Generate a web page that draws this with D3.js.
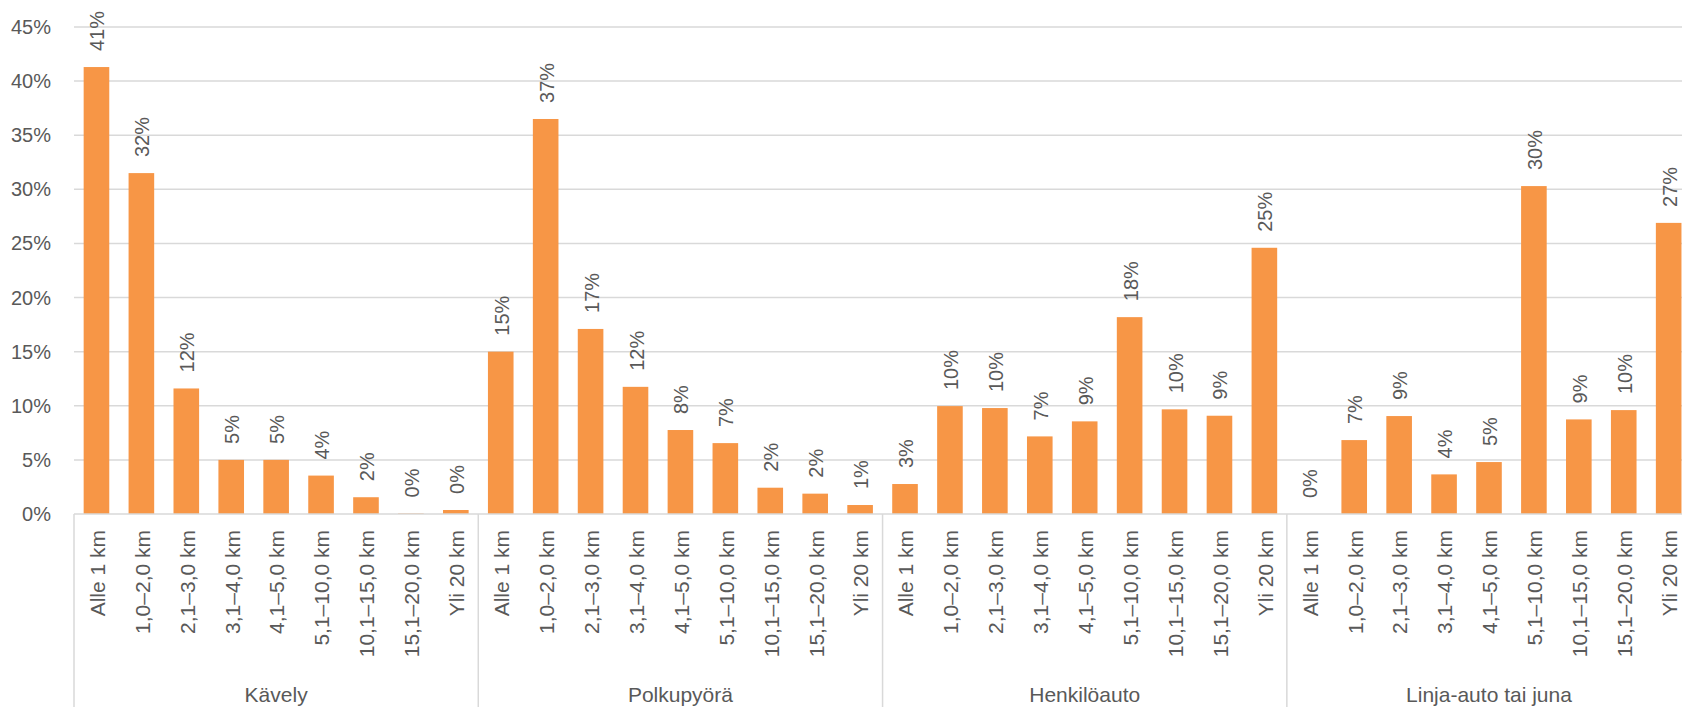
<!DOCTYPE html>
<html>
<head>
<meta charset="utf-8">
<script src="https://cdn.jsdelivr.net/npm/d3@7"></script>
<style>
  body { margin: 0; background: #fff; }
  svg text { font-family: "Liberation Sans", Arial, sans-serif; fill: #595959; font-size: 21px; }
</style>
</head>
<body>
<script>
// distance bands, repeated for every mode of travel
const distances = ["Alle 1 km", "1,0–2,0 km", "2,1–3,0 km", "3,1–4,0 km", "4,1–5,0 km",
                   "5,1–10,0 km", "10,1–15,0 km", "15,1–20,0 km", "Yli 20 km"];
const modes = ["Kävely", "Polkupyörä", "Henkilöauto", "Linja-auto tai juna"];

// shares (%) per mode
const kavely      = [41.3, 31.5, 11.6, 5.0, 5.0, 3.55, 1.55, 0.05, 0.37];
const polkupyora  = [15.0, 36.5, 17.1, 11.75, 7.76, 6.55, 2.43, 1.88, 0.83];
const henkiloauto = [2.77, 9.97, 9.79, 7.17, 8.56, 18.19, 9.67, 9.08, 24.6];
const linjaauto   = [0.0, 6.83, 9.05, 3.66, 4.8, 30.3, 8.74, 9.6, 26.9];

const yTicks = [0, 5, 10, 15, 20, 25, 30, 35, 40, 45];

const seriesByMode = [kavely, polkupyora, henkiloauto, linjaauto];

const w = 1682;
const h = 707;
const plotLeft = 74;
const step = 44.92;
const base = 514;
const plotTop = 27;

// flatten into one row per bar
const dataset = [];
modes.forEach((m, gi) => {
    distances.forEach((d, di) => {
        dataset.push({ mode: m, dist: d, value: seriesByMode[gi][di], idx: gi * distances.length + di });
    });
});

const n = dataset.length;

const x = d3.scaleBand()
    .domain(d3.range(n))
    .range([plotLeft, plotLeft + n * step])
    .paddingInner(0.43)
    .paddingOuter(0.215);

const y = d3.scaleLinear()
    .domain([0, 45])
    .range([base, plotTop]);

const svg = d3.select("body")
    .append("svg")
    .attr("width", w)
    .attr("height", h);

// gridlines
svg.append("g")
    .selectAll("line")
    .data(yTicks.filter(t => t > 0))
    .enter()
    .append("line")
    .attr("x1", plotLeft)
    .attr("x2", w)
    .attr("y1", d => y(d))
    .attr("y2", d => y(d))
    .attr("stroke", "#d9d9d9")
    .attr("stroke-width", 1.5);

// y axis tick labels
svg.append("g")
    .selectAll("text")
    .data(yTicks)
    .enter()
    .append("text")
    .attr("x", 51)
    .attr("y", d => y(d))
    .attr("dy", "0.35em")
    .attr("text-anchor", "end")
    .style("font-size", "20px")
    .text(d => d + "%");

// bars
svg.append("g")
    .selectAll("rect")
    .data(dataset)
    .enter()
    .append("rect")
    .attr("x", d => x(d.idx))
    .attr("y", d => y(d.value))
    .attr("width", x.bandwidth())
    .attr("height", d => base - y(d.value))
    .attr("fill", "#f79646");

// value labels, rotated
svg.append("g")
    .selectAll("text")
    .data(dataset)
    .enter()
    .append("text")
    .attr("transform", d => "translate(" + (x(d.idx) + x.bandwidth() / 2 + 1) + "," + (y(d.value) - 16) + ") rotate(-90)")
    .attr("dy", "0.35em")
    .attr("text-anchor", "start")
    .style("font-size", "20px")
    .text(d => Math.round(d.value) + "%");

// baseline
svg.append("line")
    .attr("x1", plotLeft)
    .attr("x2", w)
    .attr("y1", base)
    .attr("y2", base)
    .attr("stroke", "#d9d9d9")
    .attr("stroke-width", 1.5);

// group separators
svg.append("g")
    .selectAll("line")
    .data(d3.range(modes.length + 1))
    .enter()
    .append("line")
    .attr("x1", d => plotLeft + d * distances.length * step)
    .attr("x2", d => plotLeft + d * distances.length * step)
    .attr("y1", base)
    .attr("y2", h)
    .attr("stroke", "#d9d9d9")
    .attr("stroke-width", 1.5);

// category labels
svg.append("g")
    .selectAll("text")
    .data(dataset)
    .enter()
    .append("text")
    .attr("transform", d => "translate(" + (x(d.idx) + x.bandwidth() / 2 + 1) + "," + 530 + ") rotate(-90)")
    .attr("dy", "0.35em")
    .attr("text-anchor", "end")
    .text(d => d.dist);

// mode labels
svg.append("g")
    .selectAll("text")
    .data(modes)
    .enter()
    .append("text")
    .attr("x", (d, i) => plotLeft + (i + 0.5) * distances.length * step)
    .attr("y", 702)
    .attr("text-anchor", "middle")
    .text(d => d);
</script>
</body>
</html>
